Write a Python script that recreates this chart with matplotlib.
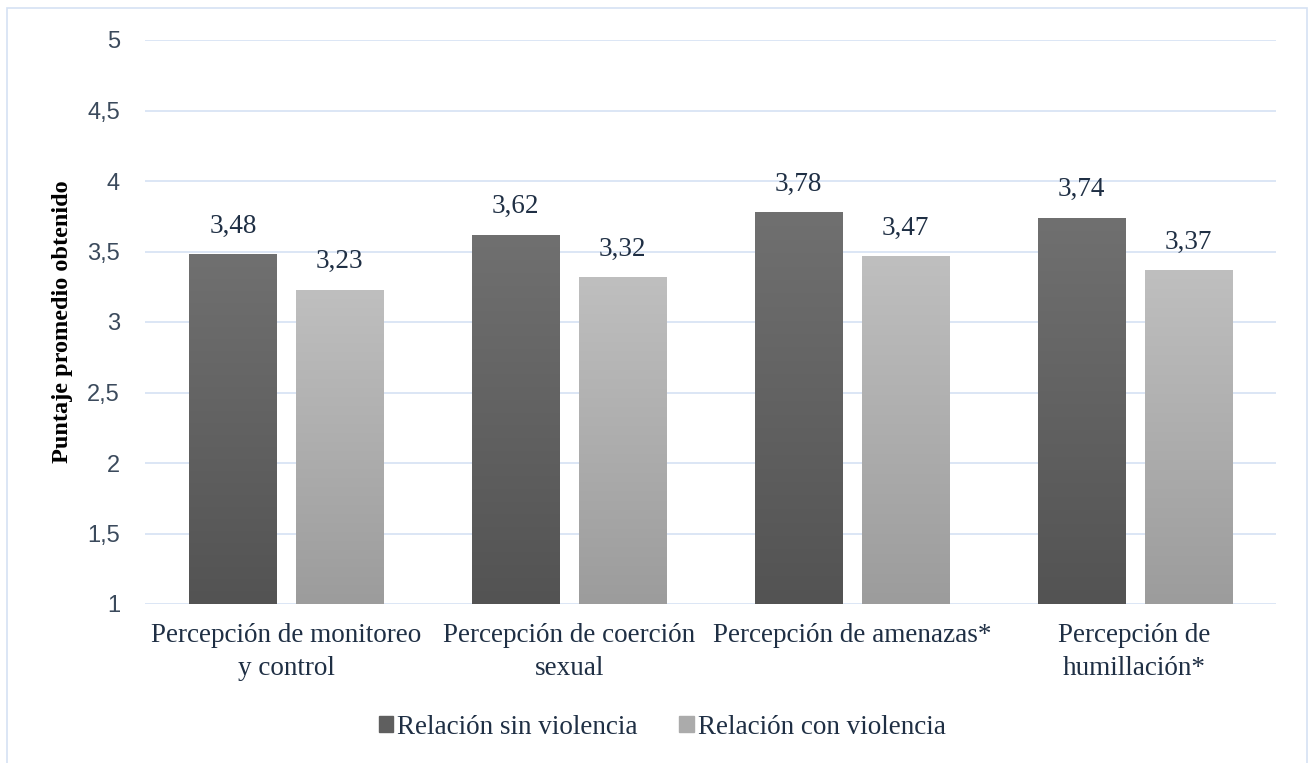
import numpy as np
import matplotlib
matplotlib.use("Agg")
import matplotlib.pyplot as plt
from matplotlib.patches import Rectangle
from matplotlib.colors import LinearSegmentedColormap

categories = ["Percepción de monitoreo\ny control", "Percepción de coerción\nsexual",
              "Percepción de amenazas*", "Percepción de\nhumillación*"]
sin_violencia = [3.48, 3.62, 3.78, 3.74]
con_violencia = [3.23, 3.32, 3.47, 3.37]
series_names = ["Relación sin violencia", "Relación con violencia"]
yticks = [1, 1.5, 2, 2.5, 3, 3.5, 4, 4.5, 5]
ytick_labels = ["1", "1,5", "2", "2,5", "3", "3,5", "4", "4,5", "5"]

W, H = 1309, 763
fig = plt.figure(figsize=(W / 100, H / 100), dpi=100)
ax = fig.add_axes([145 / W, 1 - 604 / H, (1276 - 145) / W, (604 - 40) / H])

serif = ["Liberation Serif", "DejaVu Serif"]
txt_col = "#1f2f44"
grid_col = "#d5e2f3"
fs = 19.5

ax.set_xlim(-0.5, len(categories) - 0.5)
ax.set_ylim(1, 5)
ax.set_yticks(yticks)
ax.set_yticklabels(ytick_labels, family=["Liberation Sans"], fontsize=17, color="#3b4a5c")
ax.tick_params(axis="y", length=0, pad=18)
ax.tick_params(axis="x", length=0, pad=14)
ax.set_xticks(range(len(categories)))
ax.set_xticklabels(categories, family=serif, fontsize=fs, color=txt_col, linespacing=1.4)
for s in ax.spines.values():
    s.set_visible(False)
ax.grid(axis="y", color=grid_col, linewidth=1.2)
ax.set_axisbelow(True)

ax.set_ylabel("Puntaje promedio obtenido", family=serif, fontsize=17.5, fontweight="bold",
              color="black", labelpad=10)

bw = 0.308
off = 0.189
dark_cmap = LinearSegmentedColormap.from_list("d", ["#535353", "#707070"])
light_cmap = LinearSegmentedColormap.from_list("l", ["#9c9c9c", "#bfbfbf"])
grad = np.linspace(0, 1, 256).reshape(-1, 1)

def draw_bar(x, v, cmap):
    rect = Rectangle((x - bw / 2, 1), bw, v - 1, facecolor="none", edgecolor="none")
    ax.add_patch(rect)
    im = ax.imshow(grad, cmap=cmap, origin="lower", aspect="auto",
                   extent=[x - bw / 2, x + bw / 2, 1, v], zorder=2)
    im.set_clip_path(rect)

for i, (a, b) in enumerate(zip(sin_violencia, con_violencia)):
    draw_bar(i - off, a, dark_cmap)
    draw_bar(i + off, b, light_cmap)
    ax.annotate(f"{a:.2f}".replace(".", ","), (i - off, a), xytext=(0, 11), textcoords="offset points",
                ha="center", va="bottom", family=serif, fontsize=fs, color=txt_col)
    ax.annotate(f"{b:.2f}".replace(".", ","), (i + off, b), xytext=(0, 11), textcoords="offset points",
                ha="center", va="bottom", family=serif, fontsize=fs, color=txt_col)
ax.set_xlim(-0.5, len(categories) - 0.5)
ax.set_ylim(1, 5)

handles = [Rectangle((0, 0), 1, 1, color="#5f5f5f"), Rectangle((0, 0), 1, 1, color="#ababab")]
fig.legend(handles, series_names, loc="center", bbox_to_anchor=(662 / W, 1 - 727 / H), ncol=2,
           frameon=False, prop={"family": serif, "size": fs}, handlelength=0.55, handleheight=0.55,
           handletextpad=0.15, columnspacing=1.5, labelcolor=txt_col)

fig.patches.append(Rectangle((7 / W, -0.1), (1307 - 7) / W, 1.1 - 8 / H, transform=fig.transFigure,
                             fill=False, edgecolor=grid_col, linewidth=1.2))

fig.savefig("out.png", dpi=100)
